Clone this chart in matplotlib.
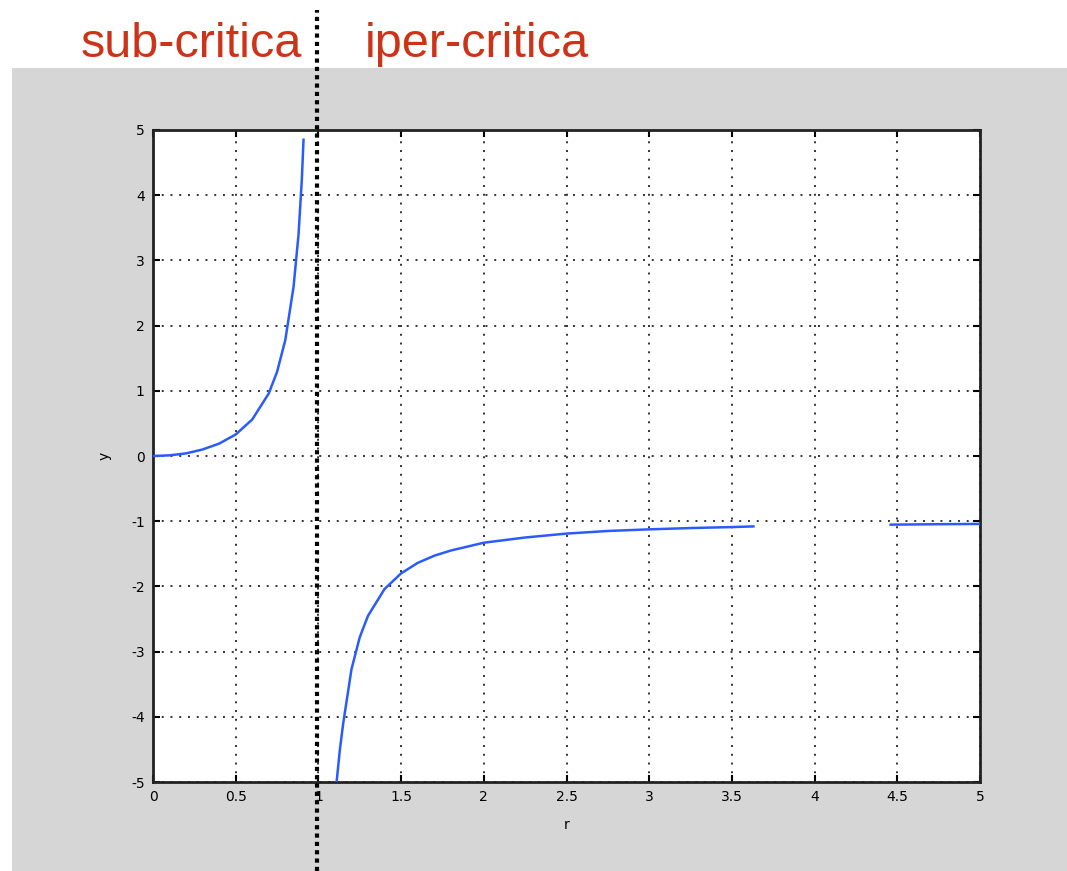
import matplotlib
matplotlib.use("Agg")
import matplotlib.pyplot as plt
import numpy as np
from matplotlib.patches import Rectangle
from matplotlib.lines import Line2D

# ---- data ----
r_sub = [0.0, 0.1, 0.2, 0.3, 0.4, 0.5, 0.6, 0.7, 0.75, 0.8, 0.85, 0.88, 0.9, 0.91]
y_sub = [0.0, 0.01, 0.04, 0.1, 0.19, 0.33, 0.56, 0.96, 1.29, 1.78, 2.6, 3.4, 4.25, 4.85]

r_iper1 = [1.11, 1.13, 1.15, 1.2, 1.25, 1.3, 1.4, 1.5, 1.6, 1.7, 1.8, 2.0, 2.25, 2.5, 2.75, 3.0, 3.25, 3.5, 3.63]
y_iper1 = [-5.0, -4.5, -4.1, -3.27, -2.78, -2.45, -2.04, -1.8, -1.64, -1.53, -1.45, -1.33, -1.25, -1.19, -1.15, -1.125, -1.105, -1.09, -1.08]

r_iper2 = [4.46, 4.75, 5.0]
y_iper2 = [-1.053, -1.046, -1.042]

xticks = [0, 0.5, 1, 1.5, 2, 2.5, 3, 3.5, 4, 4.5, 5]
xticklabels = ["0", "0.5", "1", "1.5", "2", "2.5", "3", "3.5", "4", "4.5", "5"]
yticks = [-5, -4, -3, -2, -1, 0, 1, 2, 3, 4, 5]
yticklabels = ["-5", "-4", "-3", "-2", "-1", "0", "1", "2", "3", "4", "5"]

W, H = 1067, 871
fig = plt.figure(figsize=(W / 100, H / 100), dpi=100)
fig.patch.set_facecolor("white")

# gray panel
fig.add_artist(Rectangle((12 / W, 0), 1 - 12 / W, 1 - 68 / H, transform=fig.transFigure,
                         facecolor="#d6d6d6", edgecolor="none", zorder=0))

ax = fig.add_axes([153 / W, 1 - 782 / H, (980 - 153) / W, (782 - 130) / H])
ax.set_facecolor("white")
blue = "#2a5bff"
ax.plot(r_sub, y_sub, color=blue, lw=1.8, zorder=3)
ax.plot(r_iper1, y_iper1, color=blue, lw=1.8, zorder=3)
ax.plot(r_iper2, y_iper2, color=blue, lw=1.8, zorder=3)

ax.set_xlim(0, 5)
ax.set_ylim(-5, 5)
ax.set_xticks(xticks)
ax.set_xticklabels(xticklabels)
ax.set_yticks(yticks)
ax.set_yticklabels(yticklabels)
ax.grid(True, color="#333333", linestyle=(0, (1, 3.5)), linewidth=1.4)
ax.tick_params(direction="in", length=5, width=1.5, top=True, right=True,
               labelsize=10, colors="black", pad=6)
for s in ax.spines.values():
    s.set_linewidth(2.0)
    s.set_color("#222222")
ax.set_xlabel("r", fontsize=10, labelpad=10)
ax.set_ylabel("y", fontsize=10, labelpad=14)

# vertical dotted separator at r = 1
fig.add_artist(Line2D([317 / W, 317 / W], [0, 1 - 10 / H], transform=fig.transFigure,
                      color="black", linewidth=3.0, linestyle=(0, (1, 1)),
                      dash_capstyle="butt", zorder=10))

red = "#cc3318"
fig.text(302 / W, 1 - 57 / H, "sub-critica", ha="right", va="baseline",
         fontsize=35, color=red, family="Liberation Sans")
fig.text(365 / W, 1 - 57 / H, "iper-critica", ha="left", va="baseline",
         fontsize=35, color=red, family="Liberation Sans")

fig.savefig("out.png", dpi=100)
